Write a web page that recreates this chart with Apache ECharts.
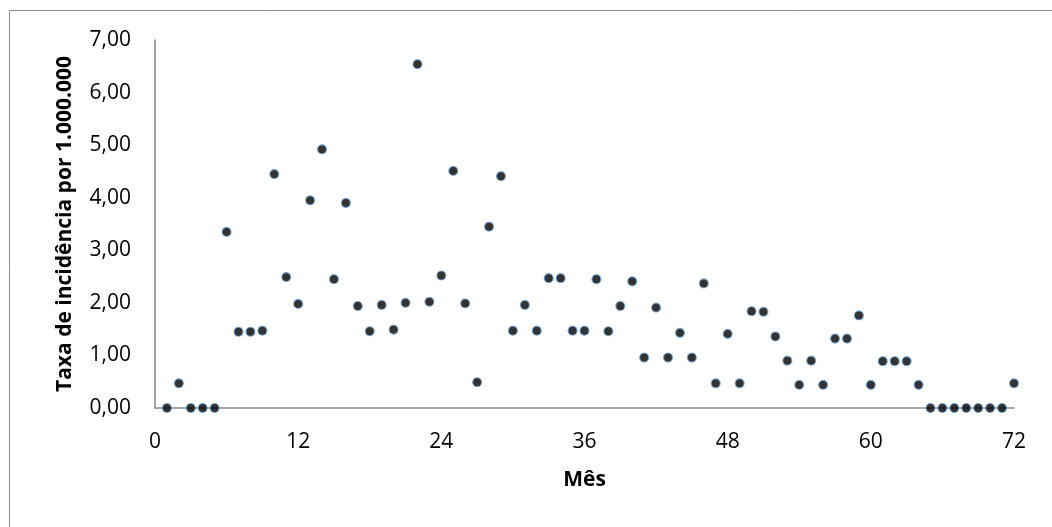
<!DOCTYPE html>
<html>
<head>
<meta charset="utf-8">
<script src="https://cdn.jsdelivr.net/npm/echarts@6/dist/echarts.min.js"></script>
<style>
html,body{margin:0;padding:0;background:#fff;}
#chart{width:1052px;height:527px;}
</style>
</head>
<body>
<div id="chart"></div>
<script>
const months = [];
for (let m = 1; m <= 72; m++) months.push(m);
const rates = [
  0, 0.47, 0, 0, 0, 3.35, 1.45, 1.45, 1.47, 4.45, 2.49, 1.98,
  3.95, 4.92, 2.45, 3.90, 1.94, 1.46, 1.96, 1.49, 2.00, 6.54, 2.02, 2.52,
  4.51, 1.99, 0.49, 3.45, 4.41, 1.47, 1.96, 1.47, 2.47, 2.47, 1.47, 1.47,
  2.45, 1.46, 1.94, 2.41, 0.96, 1.91, 0.96, 1.43, 0.96, 2.37, 0.47, 1.41,
  0.47, 1.84, 1.83, 1.36, 0.90, 0.44, 0.90, 0.44, 1.32, 1.32, 1.76, 0.44,
  0.89, 0.89, 0.89, 0.44, 0, 0, 0, 0, 0, 0, 0, 0.47
];
const xTitle = 'Mês';
const yTitle = 'Taxa de incidência por 1.000.000';

const points = months.map((m, i) => [m, rates[i]]);
const font = '"Open Sans", "Noto Sans", sans-serif';

const chart = echarts.init(document.getElementById('chart'));
chart.setOption({
  animation: false,
  backgroundColor: '#ffffff',
  graphic: [{
    type: 'rect',
    shape: { x: 9.5, y: 10.5, width: 1100, height: 600 },
    style: { fill: 'none', stroke: '#8c8c8c', lineWidth: 1 },
    silent: true
  }],
  grid: { left: 155, right: 38, top: 40, bottom: 119 },
  xAxis: {
    type: 'value',
    min: 0, max: 72, interval: 12,
    name: xTitle,
    nameLocation: 'middle',
    nameGap: 62,
    nameTextStyle: { fontFamily: font, fontSize: 21, fontWeight: 'bold', color: '#000' },
    axisLine: { show: true, onZero: false, lineStyle: { color: '#868686', width: 1.5 } },
    axisTick: { show: false },
    splitLine: { show: false },
    axisLabel: { fontFamily: font, fontSize: 21, color: '#000', margin: 24 }
  },
  yAxis: {
    type: 'value',
    min: 0, max: 7, interval: 1,
    name: yTitle,
    nameLocation: 'middle',
    nameGap: 79,
    nameTextStyle: { fontFamily: font, fontSize: 21, fontWeight: 'bold', color: '#000' },
    axisLine: { show: true, lineStyle: { color: '#868686', width: 1.5 } },
    axisTick: { show: false },
    splitLine: { show: false },
    axisLabel: {
      fontFamily: font, fontSize: 21, color: '#000', margin: 24,
      formatter: v => v.toFixed(2).replace('.', ',')
    }
  },
  series: [{
    type: 'scatter',
    data: points,
    symbol: 'circle',
    symbolSize: 9,
    itemStyle: { color: '#000000', borderColor: '#6fa8dc', borderWidth: 1.2 }
  }]
});
</script>
</body>
</html>
